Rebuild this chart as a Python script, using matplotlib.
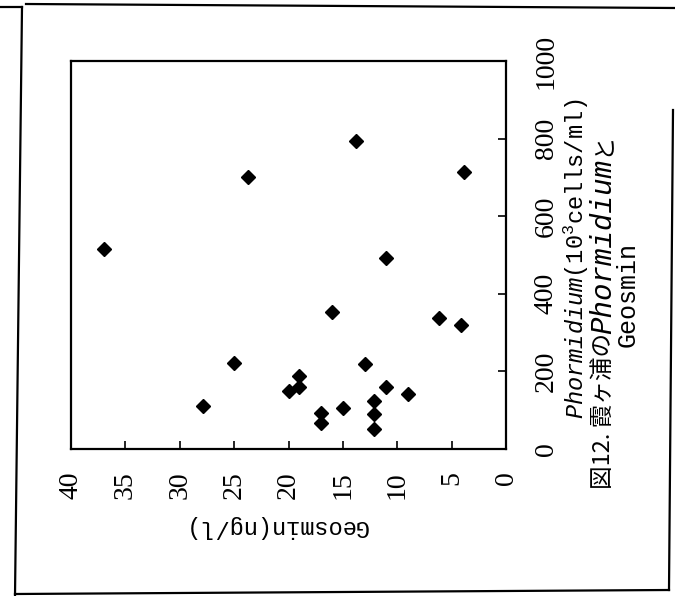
import matplotlib
matplotlib.use('Agg')
import matplotlib.pyplot as plt
from matplotlib.lines import Line2D
import numpy as np

# Geosmin (ng/l) vs Phormidium (10^3 cells/ml), page scanned rotated 90 deg CCW
geosmin = [37, 23.7, 13.8, 3.9, 11, 16, 6.2, 4.1, 27.9, 25, 20, 19, 19,
           17, 17, 15, 13, 12.1, 12.1, 12.1, 11, 9]
phormidium = [515, 700, 795, 715, 492, 353, 338, 319, 111, 222, 149, 188, 159,
              94, 66, 105, 218, 125, 89, 52, 159, 143]

geo_ticks = [0, 5, 10, 15, 20, 25, 30, 35, 40]
pho_ticks = [0, 200, 400, 600, 800, 1000]

plt.rcParams['mathtext.fontset'] = 'custom'
plt.rcParams['mathtext.it'] = 'Liberation Mono:italic'
plt.rcParams['mathtext.rm'] = 'Liberation Mono'

W, H = 675, 596
fig = plt.figure(figsize=(W / 100, H / 100), dpi=100)


def fx(px):
    return px / W


def fy(py):
    return 1 - py / H


ax = fig.add_axes([fx(71), fy(449), fx(506) - fx(71), fy(61) - fy(449)])
ax.plot(geosmin, phormidium, 'D', color='black', markersize=7.5, linestyle='none')

ax.set_xlim(40, 0)
ax.set_ylim(0, 1000)
ax.set_xticks(geo_ticks)
ax.set_yticks(pho_ticks)
ax.set_xticklabels([str(t) for t in geo_ticks], rotation=90,
                   fontfamily='Liberation Serif', fontsize=20)
ax.set_yticklabels([str(t) for t in pho_ticks], rotation=90, va='center',
                   fontfamily='Liberation Serif', fontsize=20)
ax.yaxis.tick_right()
ax.tick_params(axis='x', direction='in', length=6, width=1.2, pad=16, top=False)
ax.tick_params(axis='y', direction='in', length=6, width=1.2, pad=20, left=False)
for s in ax.spines.values():
    s.set_linewidth(1.6)

ax.set_xlabel('Geosmin(ng/l)', rotation=180, fontfamily='Liberation Mono',
              fontsize=17, ha='center', va='center')
ax.xaxis.set_label_coords(0.47, -0.201)
ax.yaxis.set_label_position('right')
ax.set_ylabel(r'$\mathit{Phormidium}$(10$^{\mathrm{3}}$cells/ml)', rotation=90,
              fontfamily='Liberation Mono', fontsize=17, ha='center', va='center')
ax.yaxis.set_label_coords(1.162, 0.49)

# caption, written along the rotated page
cap = dict(rotation=90, rotation_mode='anchor', ha='left', va='center', color='black')
fig.text(fx(603), fy(489), '図12. 霞ヶ浦の', fontfamily='Noto Sans CJK JP', fontsize=17, **cap)
fig.text(fx(603), fy(334), 'Phormidium', fontfamily='Liberation Mono', style='italic',
         fontsize=21, **cap)
fig.text(fx(603), fy(156), 'と', fontfamily='Noto Sans CJK JP', fontsize=17, **cap)
fig.text(fx(628), fy(295), 'Geosmin', fontfamily='Liberation Mono', fontsize=18,
         rotation=90, ha='center', va='center')

# frame lines of the scanned page
frame = [((0, 7), (22, 7)), ((22, 7), (15, 596)), ((26, 4), (675, 8)),
         ((673, 110), (669, 590)), ((15, 594), (669, 590))]
for (x0, y0), (x1, y1) in frame:
    fig.add_artist(Line2D([fx(x0), fx(x1)], [fy(y0), fy(y1)], color='black', linewidth=1.6))

fig.savefig('out.png', dpi=100)
